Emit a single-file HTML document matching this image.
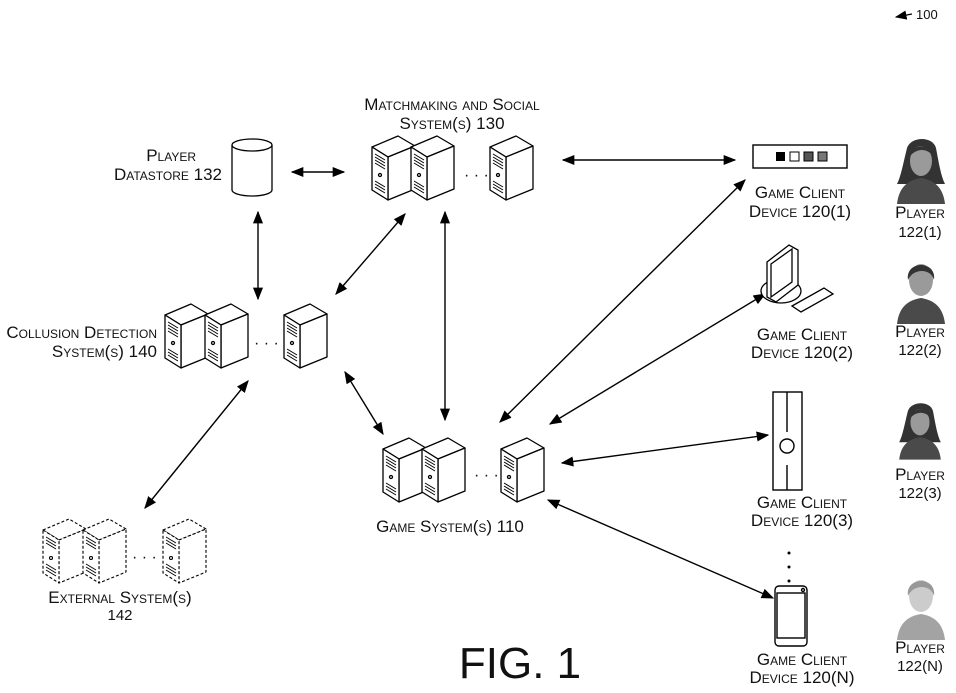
<!DOCTYPE html>
<html><head><meta charset="utf-8"><style>
html,body{margin:0;padding:0;background:#fff;}
svg{display:block;}
text{font-family:"Liberation Sans",sans-serif;font-size:17px;fill:#111;font-variant:small-caps;}
.n{font-variant:normal;font-size:15px;}
</style></head><body>
<svg width="956" height="693" viewBox="0 0 956 693" xmlns="http://www.w3.org/2000/svg">
<defs>
<marker id="a" viewBox="0 0 10 10" refX="9" refY="5" markerWidth="9" markerHeight="9" orient="auto-start-reverse"><path d="M0,1 L10,5 L0,9 z" fill="#000"/></marker>
<symbol id="srv" viewBox="0 0 46 66" width="46" height="66" overflow="visible">
<g stroke="#000" stroke-width="1.3" fill="#fff" stroke-linejoin="round">
<path d="M1,12 L27,1 L44,11 L17,22 Z"/>
<path d="M17,22 L44,11 L44,54 L17,65 Z"/>
<path d="M1,12 L17,22 L17,65 L1,55 Z"/>
<path d="M4,19 L14,25 M4,22 L14,28 M4,25 L14,31 M4,28 L14,34 M4,46 L14,52 M4,49 L14,55 M4,52 L14,58" stroke-width="1"/>
<circle cx="9" cy="40" r="1.5"/>
</g></symbol>
<symbol id="srvd" viewBox="0 0 46 66" width="46" height="66" overflow="visible">
<g stroke="#000" stroke-width="1.1" fill="#fff" stroke-dasharray="3,2" stroke-linejoin="round">
<path d="M1,12 L27,1 L44,11 L17,22 Z"/>
<path d="M17,22 L44,11 L44,54 L17,65 Z"/>
<path d="M1,12 L17,22 L17,65 L1,55 Z"/>
<path d="M4,19 L14,25 M4,22 L14,28 M4,25 L14,31 M4,46 L14,52 M4,49 L14,55 M4,52 L14,58" stroke-dasharray="none" stroke-width="0.9"/>
<circle cx="9" cy="40" r="1.5" stroke-dasharray="none"/>
</g></symbol>
<symbol id="per" viewBox="0 0 60 70" width="60" height="70" overflow="visible">
<path d="M6,68 C8,50 18,44 30,42 C42,44 52,50 54,68 Z" fill="#4a4a4a"/>
<ellipse cx="30" cy="24" rx="12" ry="16" fill="#9a9a9a"/>
<path d="M17,24 C14,4 46,4 43,24 C40,12 22,12 17,24 Z" fill="#333"/>
</symbol>
<symbol id="perf" viewBox="0 0 60 70" width="60" height="70" overflow="visible">
<path d="M16,12 C20,0 42,0 45,12 C48,28 50,40 54,48 L6,48 C10,40 12,28 16,12 Z" fill="#333"/>
<path d="M6,68 C8,50 18,44 30,42 C42,44 52,50 54,68 Z" fill="#4a4a4a"/>
<ellipse cx="30" cy="25" rx="11" ry="15" fill="#9a9a9a"/>
<path d="M19,20 C20,8 40,6 42,20 C36,12 26,12 19,20 Z" fill="#333"/>
</symbol>
</defs>

<text x="916" y="19" class="n" style="font-size:13px">100</text>
<line x1="912" y1="14" x2="896" y2="17" stroke="#000" stroke-width="1.3" marker-end="url(#a)"/>

<g stroke="#000" stroke-width="1.4" fill="none" marker-start="url(#a)" marker-end="url(#a)">
<line x1="292" y1="172" x2="344" y2="172"/>
<line x1="258" y1="212" x2="258" y2="299"/>
<line x1="336" y1="294" x2="405" y2="214"/>
<line x1="445" y1="212" x2="445" y2="420"/>
<line x1="563" y1="160" x2="735" y2="160"/>
<line x1="500" y1="422" x2="745" y2="180"/>
<line x1="550" y1="424" x2="765" y2="294"/>
<line x1="562" y1="463" x2="768" y2="435"/>
<line x1="548" y1="500" x2="773" y2="598"/>
<line x1="345" y1="372" x2="383" y2="434"/>
<line x1="248" y1="381" x2="145" y2="508"/>
</g>

<g stroke="#000" stroke-width="1.3" fill="#fff">
<path d="M232,145 L232,190 A20,6 0 0 0 272,190 L272,145"/>
<ellipse cx="252" cy="145" rx="20" ry="6"/>
</g>
<text x="196" y="161" text-anchor="end">Player</text>
<text x="222" y="180" text-anchor="end">Datastore 132</text>

<text x="452" y="110" text-anchor="middle">Matchmaking and Social</text>
<text x="452" y="129" text-anchor="middle">System(s) 130</text>
<use href="#srv" x="371" y="135"/><use href="#srv" x="410" y="135"/><use href="#srv" x="489" y="135"/>
<text x="464" y="180" class="n" style="font-size:16px">· · ·</text>

<text x="157" y="338" text-anchor="end">Collusion Detection</text>
<text x="157" y="357" text-anchor="end">System(s) 140</text>
<use href="#srv" x="164" y="303"/><use href="#srv" x="204" y="303"/><use href="#srv" x="283" y="303"/>
<text x="254" y="348" class="n" style="font-size:16px">· · ·</text>

<use href="#srv" x="382" y="437"/><use href="#srv" x="421" y="437"/><use href="#srv" x="500" y="437"/>
<text x="474" y="480" class="n" style="font-size:16px">· · ·</text>
<text x="450" y="532" text-anchor="middle">Game System(s) 110</text>

<use href="#srvd" x="42" y="518"/><use href="#srvd" x="82" y="518"/><use href="#srvd" x="162" y="518"/>
<text x="132" y="562" class="n" style="font-size:16px">· · ·</text>
<text x="120" y="603" text-anchor="middle">External System(s)</text>
<text x="120" y="620" text-anchor="middle" class="n">142</text>

<rect x="753" y="145" width="94" height="23" fill="#fff" stroke="#000" stroke-width="1.4"/>
<rect x="776" y="152" width="9" height="9" fill="#000"/>
<rect x="790" y="152" width="9" height="9" fill="#fff" stroke="#000"/>
<rect x="804" y="152" width="9" height="9" fill="#555" stroke="#000"/>
<rect x="818" y="152" width="9" height="9" fill="#777" stroke="#000"/>
<text x="800" y="198" text-anchor="middle">Game Client</text>
<text x="800" y="217" text-anchor="middle">Device 120(1)</text>

<g stroke="#000" stroke-width="1.3" fill="#fff">
<ellipse cx="781" cy="291" rx="20" ry="12"/>
<path d="M767,262 L789,245 L798,250 L798,285 L776,302 L767,297 Z"/>
<path d="M771,264 L792,249 L792,282 L771,297 Z"/>
<path d="M792,306 L824,288 L833,294 L801,312 Z"/>
</g>
<text x="802" y="340" text-anchor="middle">Game Client</text>
<text x="802" y="358" text-anchor="middle">Device 120(2)</text>

<g stroke="#000" stroke-width="1.4" fill="#fff">
<rect x="773" y="392" width="29" height="98"/>
<line x1="787" y1="392" x2="787" y2="432"/>
<line x1="787" y1="465" x2="787" y2="490"/>
<circle cx="787" cy="446" r="7"/>
</g>
<text x="802" y="508" text-anchor="middle">Game Client</text>
<text x="802" y="526" text-anchor="middle">Device 120(3)</text>
<circle cx="789" cy="553" r="1.5"/><circle cx="789" cy="567" r="1.5"/><circle cx="789" cy="581" r="1.5"/>

<g stroke="#000" stroke-width="1.4" fill="#fff">
<rect x="775" y="586" width="32" height="60" rx="4"/>
<rect x="777" y="593" width="28" height="45"/>
<circle cx="803" cy="590" r="1.5"/>
</g>
<text x="802" y="665" text-anchor="middle">Game Client</text>
<text x="802" y="683" text-anchor="middle">Device 120(N)</text>

<use href="#perf" x="891" y="136"/>
<text x="920" y="218" text-anchor="middle">Player</text>
<text x="920" y="237" text-anchor="middle" class="n">122(1)</text>
<use href="#per" x="891" y="256"/>
<text x="920" y="337" text-anchor="middle">Player</text>
<text x="920" y="355" text-anchor="middle" class="n">122(2)</text>
<use href="#perf" x="894" y="400" width="52" height="62"/>
<text x="920" y="480" text-anchor="middle">Player</text>
<text x="920" y="498" text-anchor="middle" class="n">122(3)</text>
<g opacity="0.5"><use href="#per" x="891" y="572"/></g>
<text x="920" y="653" text-anchor="middle">Player</text>
<text x="920" y="671" text-anchor="middle" class="n">122(N)</text>

<text x="520" y="678" text-anchor="middle" class="n" style="font-size:44px">FIG. 1</text>
</svg>
</body></html>
